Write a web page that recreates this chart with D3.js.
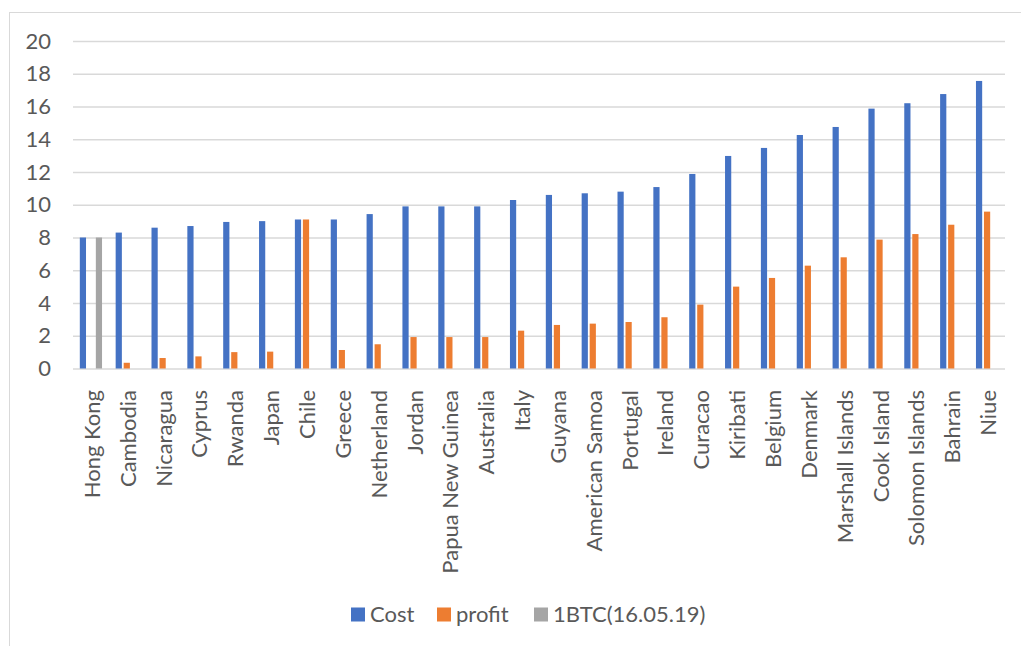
<!DOCTYPE html>
<html>
<head>
<meta charset="utf-8">
<script src="https://cdn.jsdelivr.net/npm/d3@7"></script>
<style>
  body { margin: 0; background: #fff; }
  svg { display: block; font-family: Lato, "Open Sans", sans-serif; }
</style>
</head>
<body>
<div id="chart"></div>
<script>
// Data
const countries = ['Hong Kong', 'Cambodia', 'Nicaragua', 'Cyprus', 'Rwanda', 'Japan', 'Chile', 'Greece',
  'Netherland', 'Jordan', 'Papua New Guinea', 'Australia', 'Italy', 'Guyana', 'American Samoa', 'Portugal',
  'Ireland', 'Curacao', 'Kiribati', 'Belgium', 'Denmark', 'Marshall Islands', 'Cook Island',
  'Solomon Islands', 'Bahrain', 'Niue'];
const cost = [8.0, 8.3, 8.6, 8.7, 8.95, 9.0, 9.1, 9.1, 9.43, 9.9, 9.9, 9.9, 10.29, 10.6, 10.7, 10.8,
  11.08, 11.88, 12.98, 13.47, 14.26, 14.75, 15.87, 16.2, 16.76, 17.56];
const profit = [0, 0.35, 0.64, 0.74, 1.0, 1.03, 9.1, 1.13, 1.48, 1.92, 1.92, 1.92, 2.31, 2.66, 2.74, 2.84,
  3.13, 3.9, 5.0, 5.53, 6.28, 6.79, 7.87, 8.21, 8.78, 9.58];
const btc = [8.0, null, null, null, null, null, null, null, null, null, null, null, null, null, null, null,
  null, null, null, null, null, null, null, null, null, null];
const yTicks = [0, 2, 4, 6, 8, 10, 12, 14, 16, 18, 20];

const series = [
  { key: 'cost', label: 'Cost', color: '#4472C4', values: cost },
  { key: 'profit', label: 'profit', color: '#ED7D31', values: profit },
  { key: 'btc', label: '1BTC(16.05.19)', color: '#A5A5A5', values: btc },
];

const W = 1021, H = 646;
const plot = { left: 73, right: 1005, top: 41, bottom: 368.5 };
const textColor = '#595959';
const fontSize = 22;

const svg = d3.select('#chart').append('svg').attr('width', W).attr('height', H);

// chart frame (only left and top edges fall inside the picture)
svg.append('rect').attr('x', 9.5).attr('y', 12.5).attr('width', W + 20).attr('height', H + 20)
  .attr('fill', 'none').attr('stroke', '#D9D9D9').attr('stroke-width', 1);

const x0 = d3.scaleBand().domain(countries).range([plot.left, plot.right]);
const x1 = d3.scaleBand().domain(series.map(s => s.key)).range([0, x0.bandwidth()])
  .paddingInner(0.225).paddingOuter(0.85);
const y = d3.scaleLinear().domain([0, 20]).range([plot.bottom, plot.top]);

// Grid + y labels
svg.append('g').attr('transform', `translate(${plot.left},0)`)
  .call(d3.axisLeft(y).tickValues(yTicks).tickSize(-(plot.right - plot.left)).tickPadding(22))
  .call(g => g.select('.domain').remove())
  .call(g => g.selectAll('.tick line').attr('stroke', '#D9D9D9').attr('stroke-width', 1.3))
  .call(g => g.selectAll('.tick text').attr('fill', textColor).attr('font-size', fontSize + 'px')
    .attr('font-family', 'Lato, sans-serif'));

// Bars
series.forEach(s => {
  svg.append('g').selectAll('rect')
    .data(countries.map((c, i) => ({ c, v: s.values[i] })).filter(d => d.v))
    .join('rect')
    .attr('x', d => x0(d.c) + x1(s.key))
    .attr('y', d => y(d.v))
    .attr('width', x1.bandwidth())
    .attr('height', d => y(0) - y(d.v))
    .attr('fill', s.color);
});

// Category labels
svg.append('g').attr('transform', `translate(0,${plot.bottom})`)
  .call(d3.axisBottom(x0).tickSize(0).tickPadding(0))
  .call(g => g.select('.domain').remove())
  .call(g => g.selectAll('.tick text')
    .attr('transform', 'rotate(-90)')
    .attr('text-anchor', 'end')
    .attr('x', -21.5).attr('y', 9).attr('dy', null)
    .attr('fill', textColor).attr('font-size', fontSize + 'px')
    .attr('font-family', 'Lato, sans-serif'));

// Legend
const legendX = [351, 437, 534];
const legend = svg.append('g');
series.forEach((s, i) => {
  legend.append('rect').attr('x', legendX[i]).attr('y', 607.5).attr('width', 14).attr('height', 14)
    .attr('fill', s.color);
  legend.append('text').attr('x', legendX[i] + 19).attr('y', 614.5).attr('dy', '0.35em')
    .attr('fill', textColor).attr('font-size', fontSize + 'px').text(s.label);
});
</script>
</body>
</html>
